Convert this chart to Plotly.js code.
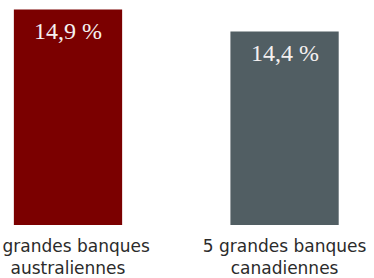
<!DOCTYPE html>
<html>
<head>
<meta charset="utf-8">
<script src="https://cdn.plot.ly/plotly-3.0.1.min.js"></script>
<style>html,body{margin:0;padding:0;background:#fff;}#chart{width:374px;height:278px;}</style>
</head>
<body>
<div id="chart"></div>
<script>
const categories = ["5 grandes banques<br>australiennes", "5 grandes banques<br>canadiennes"];
const values = [14.9, 14.4];
const barColors = ["#7b0000", "#515e63"];

const labels = values.map(v => v.toFixed(1).replace('.', ',') + ' %');

const trace = {
  type: 'bar',
  x: categories,
  y: values,
  width: 0.5,
  marker: {color: barColors},
  hoverinfo: 'none'
};

const annotations = categories.map((c, i) => ({
  x: c, y: values[i], xref: 'x', yref: 'y',
  text: labels[i], showarrow: false,
  yanchor: 'top', yshift: -7,
  font: {family: 'Liberation Serif, DejaVu Serif, serif', size: 24, color: '#f4f0f0'}
}));

const layout = {
  width: 374, height: 278,
  margin: {l: 0, r: 0, t: 5, b: 53},
  paper_bgcolor: '#fff', plot_bgcolor: '#fff',
  showlegend: false,
  xaxis: {
    type: 'category', range: [-0.314, 1.413],
    showgrid: false, zeroline: false, showline: false, ticks: '',
    ticklabelstandoff: 9,
    automargin: false,
    tickfont: {family: 'DejaVu Sans, sans-serif', size: 17, color: '#2b2b2b'}
  },
  yaxis: {
    range: [10, 15], visible: false, showgrid: false, zeroline: false
  },
  annotations: annotations
};

Plotly.newPlot('chart', [trace], layout, {staticPlot: true, displayModeBar: false});
</script>
</body>
</html>
